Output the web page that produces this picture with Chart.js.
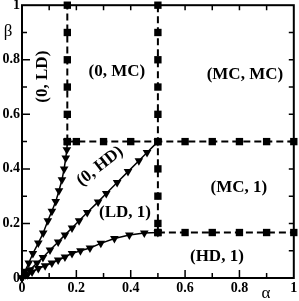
<!DOCTYPE html>
<html>
<head>
<meta charset="utf-8">
<script src="https://cdn.jsdelivr.net/npm/chart.js@4.4.0/dist/chart.umd.min.js"></script>
<style>
  html, body { margin: 0; padding: 0; background: #fff; }
  #wrap { width: 299px; height: 301px; }
</style>
</head>
<body>
<div id="wrap"><canvas id="phase" width="299" height="301"></canvas></div>
<script>
// ticks
const majorTicks = [0, 0.2, 0.4, 0.6, 0.8, 1];
const minorTicks = [0.1, 0.3, 0.5, 0.7, 0.9];

// solid boundaries (triangles): alpha / beta
const upperAlpha = [0, 0.011, 0.025, 0.04, 0.06, 0.078, 0.095, 0.11, 0.124, 0.136, 0.147, 0.155, 0.161, 0.165, 0.1667];
const upperBeta  = [0, 0.025, 0.055, 0.09, 0.128, 0.165, 0.21, 0.245, 0.28, 0.32, 0.36, 0.40, 0.44, 0.47, 0.5];

const diagAlpha = [0, 0.012, 0.03, 0.055, 0.077, 0.103, 0.133, 0.158, 0.184, 0.21, 0.24, 0.28, 0.31, 0.35, 0.39, 0.43, 0.46, 0.5];
const diagBeta  = [0, 0.012, 0.03, 0.055, 0.075, 0.103, 0.132, 0.158, 0.183, 0.21, 0.24, 0.279, 0.31, 0.35, 0.39, 0.43, 0.46, 0.5];

const lowerAlpha = [0, 0.02, 0.037, 0.06, 0.085, 0.11, 0.133, 0.158, 0.184, 0.215, 0.25, 0.29, 0.34, 0.395, 0.45, 0.5];
const lowerBeta  = [0, 0.012, 0.022, 0.035, 0.045, 0.055, 0.066, 0.077, 0.09, 0.1, 0.11, 0.127, 0.145, 0.158, 0.165, 0.1667];

// dashed boundaries (squares)
const ldEdgeAlpha = [0.1667, 0.1667, 0.1667, 0.1667, 0.1667, 0.1667];
const ldEdgeBeta  = [0.5, 0.6, 0.7, 0.8, 0.9, 1.0];

const halfEdgeAlpha = [0.1667, 0.2, 0.3, 0.4, 0.5, 0.6, 0.7, 0.8, 0.9, 1.0];
const halfEdgeBeta  = [0.5, 0.5, 0.5, 0.5, 0.5, 0.5, 0.5, 0.5, 0.5, 0.5];

const midEdgeAlpha = [0.5, 0.5, 0.5, 0.5, 0.5, 0.5, 0.5, 0.5, 0.5, 0.5];
const midEdgeBeta  = [1.0, 0.9, 0.8, 0.7, 0.6, 0.5, 0.4, 0.3, 0.2, 0.1667];

const hdEdgeAlpha = [0.5, 0.6, 0.7, 0.8, 0.9, 1.0];
const hdEdgeBeta  = [0.1667, 0.1667, 0.1667, 0.1667, 0.1667, 0.1667];

// phase names
const phaseNames = ['(0, LD)', '(0, MC)', '(MC, MC)', '(0, HD)', '(LD, 1)', '(MC, 1)', '(HD, 1)'];

// where each phase name sits (data coords) and its rotation
const phasePlace = [
  { a: 0.077, b: 0.738, rot: -90 },
  { a: 0.349, b: 0.756, rot: 0 },
  { a: 0.82,  b: 0.745, rot: 0 },
  { a: 0.287, b: 0.41,  rot: -38 },
  { a: 0.379, b: 0.239, rot: 0 },
  { a: 0.798, b: 0.33,  rot: 0 },
  { a: 0.717, b: 0.077, rot: 0 }
];

const SERIF = '"Liberation Serif", "Times New Roman", serif';

function pts(xs, ys) { return xs.map((v, i) => ({ x: v, y: ys[i] })); }

function solid(xs, ys) {
  return {
    data: pts(xs, ys), showLine: true, clip: false,
    borderColor: '#000', borderWidth: 1.5,
    pointStyle: 'triangle', rotation: 180, pointRadius: 5,
    backgroundColor: '#000', pointBorderWidth: 0
  };
}

function dashed(xs, ys) {
  return {
    data: pts(xs, ys), showLine: true, clip: false,
    borderColor: '#000', borderWidth: 2, borderDash: [7, 4],
    pointStyle: 'rect', pointRadius: 5.2,
    backgroundColor: '#000', pointBorderWidth: 0
  };
}

const framePlugin = {
  id: 'frame',
  beforeDatasetsDraw(chart) {
    const { ctx, chartArea: a, scales: { x, y } } = chart;
    ctx.save();
    ctx.strokeStyle = '#000';
    ctx.lineWidth = 1.5;
    ctx.beginPath();
    const all = majorTicks.concat(minorTicks);
    all.forEach(v => {
      if (v <= 0 || v >= 1) return;
      const len = majorTicks.includes(v) ? 8 : 5;
      const px = x.getPixelForValue(v), py = y.getPixelForValue(v);
      ctx.moveTo(px, a.bottom); ctx.lineTo(px, a.bottom - len);
      ctx.moveTo(px, a.top); ctx.lineTo(px, a.top + 5);
      ctx.moveTo(a.left, py); ctx.lineTo(a.left + len, py);
      ctx.moveTo(a.right, py); ctx.lineTo(a.right - 5, py);
    });
    ctx.stroke();
    ctx.lineWidth = 2;
    ctx.strokeRect(a.left, a.top, a.right - a.left, a.bottom - a.top);
    ctx.restore();
  },
  afterDatasetsDraw(chart) {
    const { ctx, scales: { x, y } } = chart;
    ctx.save();
    ctx.fillStyle = '#000';
    ctx.textAlign = 'center';
    ctx.textBaseline = 'middle';
    ctx.font = 'bold 17px ' + SERIF;
    phaseNames.forEach((t, i) => {
      const p = phasePlace[i];
      ctx.save();
      ctx.translate(x.getPixelForValue(p.a), y.getPixelForValue(p.b));
      ctx.rotate(p.rot * Math.PI / 180);
      ctx.fillText(t, 0, 0);
      ctx.restore();
    });
    // axis titles
    ctx.font = '17px ' + SERIF;
    ctx.fillText('\u03B2', 8, 32);
    ctx.fillText('\u03B1', 266, 294);
    ctx.restore();
  }
};

const tickFont = { family: SERIF, weight: 'bold', size: 14 };
const tickText = v => String(v);

new Chart(document.getElementById('phase'), {
  type: 'scatter',
  data: {
    datasets: [
      solid(upperAlpha, upperBeta),
      solid(diagAlpha, diagBeta),
      solid(lowerAlpha, lowerBeta),
      dashed(ldEdgeAlpha, ldEdgeBeta),
      dashed(halfEdgeAlpha, halfEdgeBeta),
      dashed(midEdgeAlpha, midEdgeBeta),
      dashed(hdEdgeAlpha, hdEdgeBeta)
    ]
  },
  options: {
    responsive: false,
    animation: false,
    devicePixelRatio: 1,
    layout: { padding: { top: 5, right: 5, left: 0, bottom: 0 } },
    plugins: { legend: { display: false }, tooltip: { enabled: false } },
    scales: {
      x: {
        type: 'linear', min: 0, max: 1,
        grid: { display: false, drawTicks: false, tickLength: 0 }, border: { display: false },
        afterBuildTicks: s => { s.ticks = majorTicks.map(v => ({ value: v })); },
        afterFit: s => { s.height = 23; s.paddingLeft = 0; s.paddingRight = 0; },
        ticks: { color: '#000', font: tickFont, padding: 2, maxRotation: 0, callback: tickText }
      },
      y: {
        type: 'linear', min: 0, max: 1,
        grid: { display: false, drawTicks: false, tickLength: 0 }, border: { display: false },
        afterBuildTicks: s => { s.ticks = majorTicks.map(v => ({ value: v })); },
        afterFit: s => { s.width = 22; s.paddingTop = 0; s.paddingBottom = 0; },
        ticks: { color: '#000', font: tickFont, padding: 2, callback: tickText }
      }
    }
  },
  plugins: [framePlugin]
});
</script>
</body>
</html>
